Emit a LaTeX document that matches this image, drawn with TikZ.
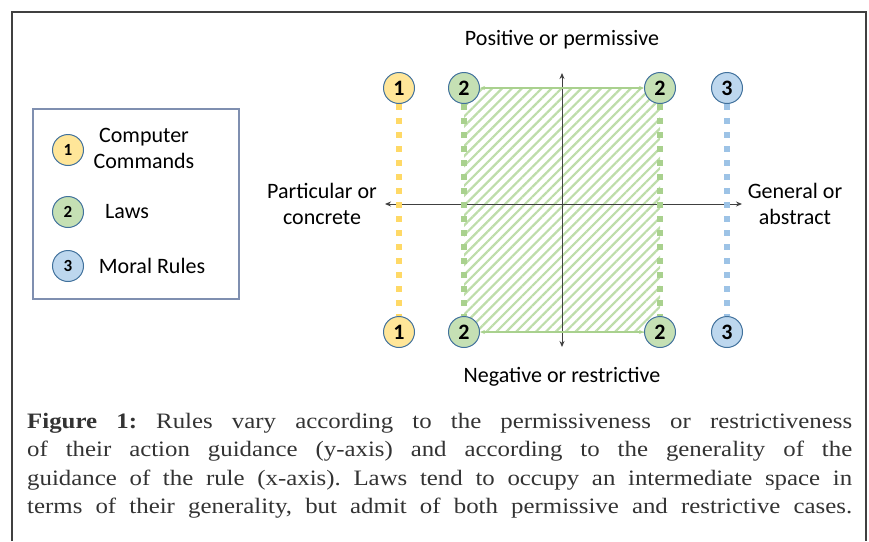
\documentclass[tikz,border=0pt]{standalone}
\usepackage{fontspec}
\setmainfont{Carlito}
\newfontfamily\capfont[FakeStretch=1.13]{Liberation Serif}
\usetikzlibrary{arrows.meta,patterns.meta}
\frenchspacing

\definecolor{ccfill}{HTML}{FFE699}
\definecolor{ccdot}{HTML}{FFD966}
\definecolor{lawfill}{HTML}{C5E0B4}
\definecolor{lawdot}{HTML}{A9D18E}
\definecolor{morfill}{HTML}{BDD7EE}
\definecolor{mordot}{HTML}{9DC3E6}
\definecolor{ringblue}{HTML}{41719C}
\definecolor{legframe}{HTML}{7F8FB0}

\begin{document}
\begin{tikzpicture}[x=1pt, y=-1pt, >=Stealth,
    badge/.style={circle, draw=ringblue, line width=1pt, minimum size=31pt, inner sep=0pt,
      font=\fontsize{22}{22}\selectfont\bfseries},
    legbadge/.style={badge, font=\fontsize{17}{17}\selectfont\bfseries},
    dotline/.style={line width=6pt, dash pattern=on 6pt off 8pt},
    axis/.style={black!75, line width=0.9pt, {Stealth[length=6pt,width=5pt]}-{Stealth[length=6pt,width=5pt]}},
    lbl/.style={font=\fontsize{22}{26}\selectfont, align=center, inner sep=0pt},
    capline/.style={anchor=base west, inner sep=0pt, text=black!80,
      font=\capfont\fontsize{22}{22}\selectfont}]
    \useasboundingbox (0,0) rectangle (869,541);

    % Keret
    \draw[line width=2.5pt, black!75] (12,541) -- (12,12) -- (866,12) -- (866,541);

    % Oszlopok helye
    \def\yt{88}   % felso sor
    \def\yb{332}  % also sor

    % Sraffozott terulet (torvenyek)
    \fill[pattern={Lines[angle=45,distance=7pt,line width=2.2pt]}, pattern color=lawdot!75]
      (464,\yt) rectangle (660,\yb);

    % Tengelyek
    \coordinate (xl) at (385,204);
    \coordinate (xr) at (742,204);
    \coordinate (yu) at (562,73);
    \coordinate (yd) at (562,347);
    \draw[axis] (xl) -- (xr);
    \draw[axis] (yu) -- (yd);

    % Korok
    \node[badge, fill=ccfill] (y1t) at (399,\yt) {1};
    \node[badge, fill=ccfill] (y1b) at (399,\yb) {1};
    \node[badge, fill=lawfill] (g1t) at (464,\yt) {2};
    \node[badge, fill=lawfill] (g1b) at (464,\yb) {2};
    \node[badge, fill=lawfill] (g2t) at (660,\yt) {2};
    \node[badge, fill=lawfill] (g2b) at (660,\yb) {2};
    \node[badge, fill=morfill] (b1t) at (727,\yt) {3};
    \node[badge, fill=morfill] (b1b) at (727,\yb) {3};

    % Pontozott vonalak
    \draw[dotline, ccdot] (y1t) -- (y1b);
    \draw[dotline, lawdot] (g1t) -- (g1b);
    \draw[dotline, lawdot] (g2t) -- (g2b);
    \draw[dotline, mordot] (b1t) -- (b1b);

    % Zold nyilak
    \draw[lawdot, line width=1.2pt, {Stealth[length=5pt,width=4pt]}-{Stealth[length=5pt,width=4pt]}] (g1t) -- (g2t);
    \draw[lawdot, line width=1.2pt, {Stealth[length=5pt,width=4pt]}-{Stealth[length=5pt,width=4pt]}] (g1b) -- (g2b);

    % Feliratok
    \node[lbl] (pos) at (562,40) {Positive or permissive};
    \node[lbl] (neg) at (562,377) {Negative or restrictive};
    \node[lbl] (part) at (322,204) {Particular or\\concrete};
    \node[lbl] (gen) at (795,204) {General or\\abstract};

    % Jelmagyarazat
    \draw[legframe, line width=1.3pt] (33,109) rectangle (239,299);
    \node[legbadge, fill=ccfill] (l1) at (68,150) {1};
    \node[legbadge, fill=lawfill] (l2) at (68,212) {2};
    \node[legbadge, fill=morfill] (l3) at (68,266) {3};
    \node[lbl] (t1) at (144,148) {Computer\\Commands};
    \node[lbl] (t2) at (127,212) {Laws};
    \node[lbl] (t3) at (152,266) {Moral Rules};

    % Abrafelirat
    \node[capline] (cap1) at (27,428) {\makebox[825pt][s]{\textbf{Figure 1:} Rules vary according to the permissiveness or restrictiveness}};
    \node[capline] (cap2) at (27,456.5) {\makebox[825pt][s]{of their action guidance (y-axis) and according to the generality of the}};
    \node[capline] (cap3) at (27,485) {\makebox[825pt][s]{guidance of the rule (x-axis). Laws tend to occupy an intermediate space in}};
    \node[capline] (cap4) at (27,513.5) {\makebox[825pt][s]{terms of their generality, but admit of both permissive and restrictive cases.}};
\end{tikzpicture}
\end{document}
